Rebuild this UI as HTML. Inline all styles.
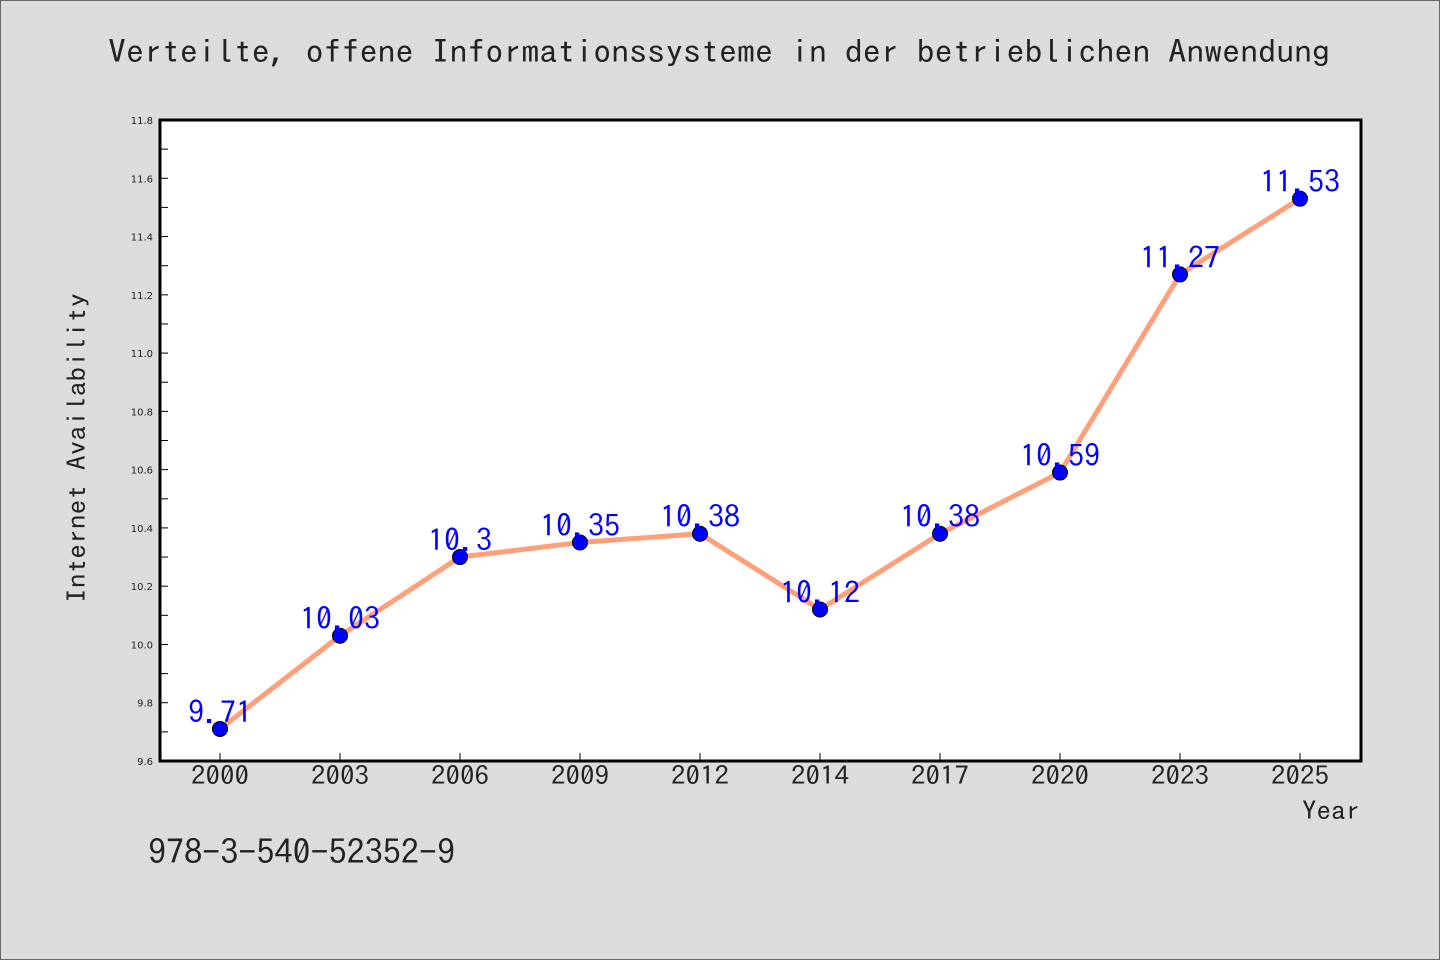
<!DOCTYPE html>
<html><head><meta charset="utf-8"><style>
body{margin:0;background:#dcdcdc;}
svg{display:block;font-family:"IPAGothic","WenQuanYi Zen Hei",monospace;}
</style></head><body>
<svg width="1440" height="960">
<rect x="0.5" y="0.5" width="1439" height="959" fill="#dcdcdc" stroke="#666"/>
<text x="108" y="63" textLength="1222" lengthAdjust="spacingAndGlyphs" font-size="32" fill="#222">Verteilte, offene Informationssysteme in der betrieblichen Anwendung</text>
<rect x="160" y="120" width="1201" height="641" fill="#fff" stroke="#000" stroke-width="3"/>
<g id="yaxis"></g>
<g id="xaxis"></g>
<g id="series"></g>
<text transform="translate(86,603) rotate(-90)" textLength="310" lengthAdjust="spacingAndGlyphs" font-size="26" fill="#222">Internet Availability</text>
<text x="1302" y="820" textLength="58" lengthAdjust="spacingAndGlyphs" font-size="26" fill="#222">Year</text>
<text x="148" y="864" textLength="307" lengthAdjust="spacingAndGlyphs" font-size="34" fill="#222">978-3-540-52352-9</text>
</svg>
<script>
const categories=["2000","2003","2006","2009","2012","2014","2017","2020","2023","2025"];
const values=[9.71,10.03,10.3,10.35,10.38,10.12,10.38,10.59,11.27,11.53];
const yTicks=[9.6,9.8,10.0,10.2,10.4,10.6,10.8,11.0,11.2,11.4,11.6,11.8];
const yMin=9.6,yMax=11.8;
const NS="http://www.w3.org/2000/svg";
function y(v){return 761-(v-yMin)/(yMax-yMin)*641;}
function x(i){return 160+1200/categories.length*(i+0.5);}
function mk(t,a,p){const e=document.createElementNS(NS,t);for(const k in a)e.setAttribute(k,a[k]);p.appendChild(e);return e;}
const ya=document.getElementById('yaxis'),xa=document.getElementById('xaxis'),sg=document.getElementById('series');
yTicks.forEach((v,i)=>{
 const t=mk('text',{x:153,y:y(v)+4,'text-anchor':'end','font-size':10,fill:'#222','font-family':'DejaVu Sans,sans-serif'},ya);
 
 
 t.textContent=v.toFixed(1);
 const l=mk('line',{x1:160,x2:168,y1:y(v),y2:y(v),stroke:'#000'},ya);
 
 
 if(i<yTicks.length-1){const m=mk('line',{x1:160,x2:168,y1:y(v+0.1),y2:y(v+0.1),stroke:'#000'},ya);
 
 }
});
categories.forEach((c,i)=>{
 const t=mk('text',{x:x(i),y:785,'text-anchor':'middle','font-size':26,fill:'#222',textLength:58,lengthAdjust:'spacingAndGlyphs'},xa);
 
 
 t.textContent=c;
 const l=mk('line',{x1:x(i),x2:x(i),y1:753,y2:761,stroke:'#000'},xa);
 
 
});
const line=mk('polyline',{points:values.map((v,i)=>x(i)+','+y(v)).join(' '),fill:'none',stroke:'#ffa07a','stroke-width':5},sg);


values.forEach((v,i)=>{
 const c=mk('circle',{cx:x(i),cy:y(v),r:7.5,fill:'#0000ff',stroke:'#000','stroke-width':1},sg);
 
 
 const s=String(v);
 const t=mk('text',{x:x(i),y:y(v)-6,'text-anchor':'middle','font-size':30,fill:'#0000ff',textLength:s.length*16,lengthAdjust:'spacingAndGlyphs'},sg);
 
 
 t.textContent=s;
});
</script>
</body></html>
